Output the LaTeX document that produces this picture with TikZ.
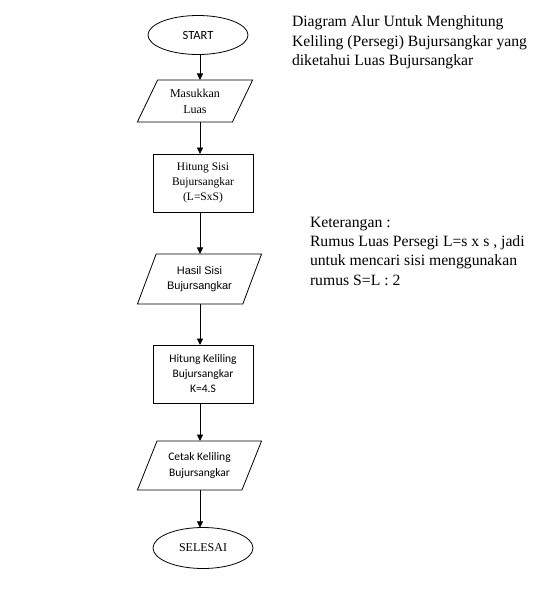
\documentclass[tikz,border=0pt]{standalone}
\usepackage{fontspec}
\setmainfont{Liberation Serif}
\newfontfamily\carl{Carlito}
\newfontfamily\ars{Liberation Sans}
\usetikzlibrary{shapes.geometric,arrows.meta}
\begin{document}
\begin{tikzpicture}[x=1pt,y=-1pt,
  every node/.style={inner sep=0pt,outer sep=0pt},
  box/.style={draw,line width=0.8pt,align=center,minimum width=100pt,minimum height=58pt},
  io/.style={draw,line width=0.8pt,align=center,trapezium,trapezium left angle=61,trapezium right angle=119,trapezium stretches=true},
  term/.style={draw,line width=0.8pt,ellipse,align=center,minimum width=100pt},
  flow/.style={line width=0.8pt,-{Triangle[length=6.5pt,width=6pt]}},
  note/.style={align=left,anchor=north west,font=\fontsize{15.7}{19.3}\selectfont}]
\useasboundingbox (0,0) rectangle (536,590);
\coordinate (axis) at (200,0);
\node[term,minimum height=39pt,font=\carl\fontsize{12.5}{14}\selectfont] (start) at (198,35) {START};
\node[io,minimum width=116pt,minimum height=42pt,font=\fontsize{12}{16}\selectfont] (in) at (195,101) {Masukkan\\Luas};
\node[box,font=\fontsize{11.5}{15}\selectfont] (sisi) at (203,183) {Hitung Sisi\\Bujursangkar\\(L=SxS)};
\node[io,minimum width=125pt,minimum height=50pt,font=\ars\fontsize{11}{15}\selectfont] (hasil) at (199.5,279) {Hasil Sisi\\Bujursangkar};
\node[box,font=\carl\fontsize{11.5}{15}\selectfont] (kel) at (203,374) {Hitung Keliling\\Bujursangkar\\K=4.S};
\node[io,minimum width=125pt,minimum height=49pt,font=\carl\fontsize{11.5}{16}\selectfont] (cetak) at (199.5,465.5) {Cetak Keliling\\Bujursangkar};
\node[term,minimum height=41pt,font=\fontsize{12}{14}\selectfont] (end) at (203,548) {SELESAI};
\draw[flow] (start.south -| axis) -- (in.north -| axis);
\draw[flow] (in.south -| axis) -- (sisi.north -| axis);
\draw[flow] (sisi.south -| axis) -- (hasil.north -| axis);
\draw[flow] (hasil.south -| axis) -- (kel.north -| axis);
\draw[flow] (kel.south -| axis) -- (cetak.north -| axis);
\draw[flow] (cetak.south -| axis) -- ([yshift=-0.3pt]end.north -| axis);
\node[note] (title) at (292,16) {Diagram Alur Untuk Menghitung\\Keliling (Persegi) Bujursangkar yang\\diketahui Luas Bujursangkar};
\node[note] (ket) at (310,217) {Keterangan :\\Rumus Luas Persegi L=s x s , jadi\\untuk mencari sisi menggunakan\\rumus S=L : 2};
\end{tikzpicture}
\end{document}
